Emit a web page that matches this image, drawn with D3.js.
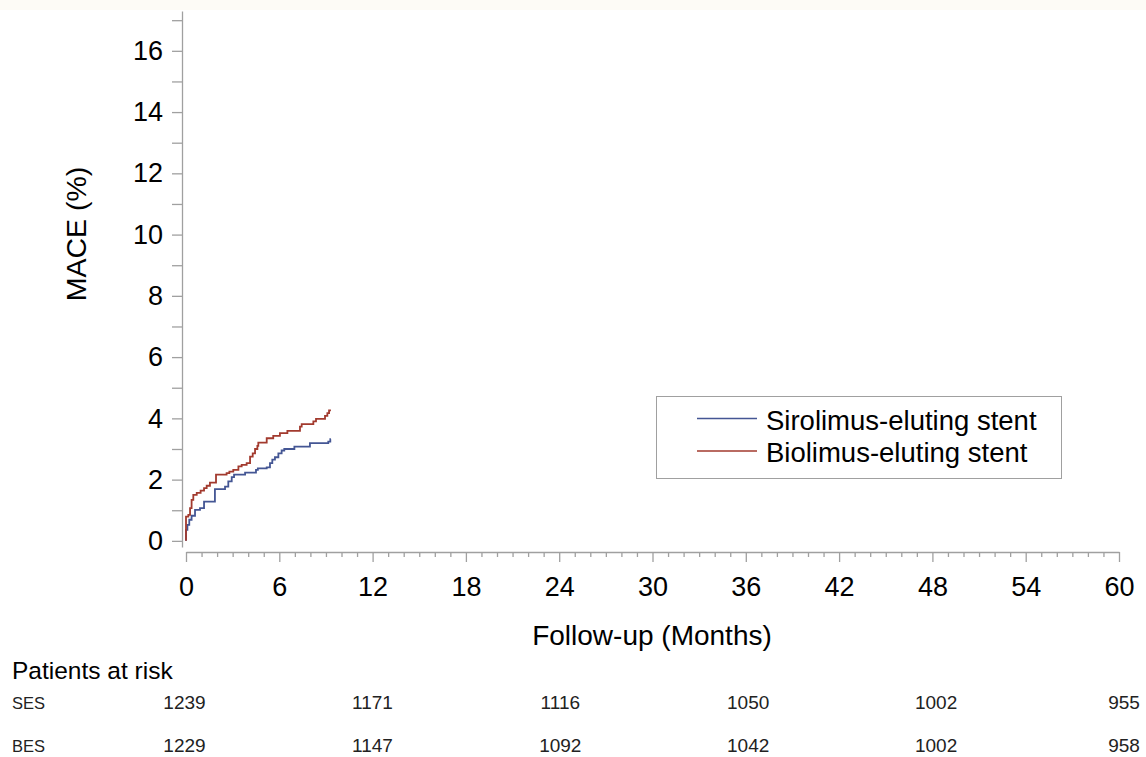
<!DOCTYPE html>
<html>
<head>
<meta charset="utf-8">
<script src="https://cdn.jsdelivr.net/npm/d3@7"></script>
<style>
  html, body { margin: 0; padding: 0; background: #ffffff; }
  svg { display: block; font-family: "Liberation Sans", Arial, sans-serif; }
</style>
</head>
<body>
<svg id="chart" width="1146" height="757"></svg>
<script>
// Kaplan-Meier cumulative incidence of MACE (%), by stent group
const sesTime = [0, 0, 0.09, 0.21, 0.36, 0.58, 0.9, 1.16, 1.86, 2.51, 2.72, 2.94, 3.09, 3.8, 4.5, 4.62, 5.19, 5.4, 5.55, 5.72, 5.94, 6.15, 6.32, 6.97, 7.97, 9.15, 9.28, 9.32];
const sesMace = [0, 0.36, 0.52, 0.69, 0.82, 1.01, 1.07, 1.28, 1.69, 1.77, 1.94, 2.08, 2.16, 2.23, 2.32, 2.37, 2.4, 2.54, 2.65, 2.73, 2.86, 2.95, 3.0, 3.08, 3.19, 3.24, 3.32, 3.32];

const besTime = [0, 0, 0.15, 0.26, 0.36, 0.47, 0.69, 0.94, 1.16, 1.33, 1.54, 1.93, 2.61, 2.79, 3.04, 3.37, 3.58, 3.9, 4.12, 4.29, 4.44, 4.59, 4.65, 5.19, 5.61, 6.04, 6.52, 7.33, 7.44, 8.19, 8.36, 8.94, 9.09, 9.2, 9.32];
const besMace = [0, 0.79, 0.85, 1.07, 1.34, 1.5, 1.57, 1.64, 1.72, 1.8, 1.9, 2.16, 2.21, 2.26, 2.32, 2.43, 2.48, 2.54, 2.75, 2.86, 3.0, 3.1, 3.21, 3.35, 3.43, 3.52, 3.59, 3.73, 3.81, 3.9, 3.98, 4.08, 4.17, 4.26, 4.26];

const seriesNames = ["Sirolimus-eluting stent", "Biolimus-eluting stent"];
const seriesColors = ["#445694", "#A23A2E"];

const xTickLabels = [0, 6, 12, 18, 24, 30, 36, 42, 48, 54, 60];
const yTickLabels = [0, 2, 4, 6, 8, 10, 12, 14, 16];

// Patients at risk
const riskTimes = [0, 12, 24, 36, 48, 60];
const riskGroups = ["SES", "BES"];
const sesRisk = [1239, 1171, 1116, 1050, 1002, 955];
const besRisk = [1229, 1147, 1092, 1042, 1002, 958];

const svg = d3.select("#chart");
const axisColor = "#a0a0a0";
const fontFamily = "Liberation Sans, Arial, sans-serif";

// faint header band
svg.append("rect").attr("x", 0).attr("y", 0).attr("width", 1146).attr("height", 10).attr("fill", "#fdfbf6");

const x = d3.scaleLinear().domain([0, 60]).range([186, 1119]);
const y = d3.scaleLinear().domain([-0.2, 17.3]).range([547, 11]);

// Y axis: ticks every 1, labels on even values
const yAxis = d3.axisLeft(y)
  .tickValues(d3.range(0, 18, 1))
  .tickSize(10)
  .tickSizeOuter(0)
  .tickPadding(9)
  .tickFormat(d => yTickLabels.includes(d) ? d : "");
const gy = svg.append("g").attr("transform", "translate(182,0)").call(yAxis);
gy.select(".domain").attr("stroke", axisColor).attr("stroke-width", 1.3);
gy.selectAll(".tick line").attr("stroke", axisColor).attr("stroke-width", 1.3);
gy.selectAll(".tick text").attr("font-size", 27).attr("fill", "#000")
  .attr("font-family", fontFamily);

// X axis: minor ticks every month, major every 6 months
const gxMinor = svg.append("g").attr("transform", "translate(0,552)")
  .call(d3.axisBottom(x).tickValues(d3.range(0, 61, 1).filter(d => d % 6 !== 0)).tickSize(5).tickSizeOuter(0).tickFormat(""));
gxMinor.select(".domain").remove();
gxMinor.selectAll(".tick line").attr("stroke", axisColor).attr("stroke-width", 1.3);

const gx = svg.append("g").attr("transform", "translate(0,552)")
  .call(d3.axisBottom(x).tickValues(xTickLabels).tickSize(10).tickSizeOuter(0).tickPadding(15));
gx.select(".domain").attr("stroke", axisColor).attr("stroke-width", 1.3);
gx.selectAll(".tick line").attr("stroke", axisColor).attr("stroke-width", 1.3);
gx.selectAll(".tick text").attr("font-size", 27).attr("fill", "#000")
  .attr("font-family", fontFamily);

// Axis titles
svg.append("text")
  .attr("transform", "translate(86,234) rotate(-90)")
  .attr("text-anchor", "middle")
  .attr("font-size", 28.5)
  .text("MACE (%)");

svg.append("text")
  .attr("x", 652).attr("y", 645)
  .attr("text-anchor", "middle")
  .attr("font-size", 28)
  .text("Follow-up (Months)");

// Step curves
const line = d3.line()
  .x(d => x(d[0]))
  .y(d => y(d[1]))
  .curve(d3.curveStepAfter);

const series = [
  d3.zip(sesTime, sesMace),
  d3.zip(besTime, besMace)
];
series.forEach((pts, i) => {
  svg.append("path")
    .datum(pts)
    .attr("d", line)
    .attr("fill", "none")
    .attr("stroke", seriesColors[i])
    .attr("stroke-width", 1.8);
});

// Legend
const legend = svg.append("g");
legend.append("rect")
  .attr("x", 656.5).attr("y", 396.5)
  .attr("width", 405).attr("height", 82)
  .attr("fill", "#fff")
  .attr("stroke", "#a0a0a0")
  .attr("stroke-width", 1);
seriesNames.forEach((name, i) => {
  const ly = 418.5 + i * 32.5;
  legend.append("line")
    .attr("x1", 697).attr("x2", 757)
    .attr("y1", ly).attr("y2", ly)
    .attr("stroke", seriesColors[i])
    .attr("stroke-width", 1.3);
  legend.append("text")
    .attr("x", 766).attr("y", ly + 11)
    .attr("font-size", 27.5)
    .text(name);
});

// Patients-at-risk table
svg.append("text")
  .attr("x", 12).attr("y", 679)
  .attr("font-size", 24.5)
  .text("Patients at risk");

const xr = d3.scaleLinear().domain([0, 60]).range([184.5, 1124]);
const riskRows = [sesRisk, besRisk];
riskGroups.forEach((g, i) => {
  const ry = 709 + i * 43;
  svg.append("text")
    .attr("x", 12).attr("y", ry)
    .attr("font-size", 16.5)
    .attr("fill", "#222")
    .text(g);
  svg.append("g").selectAll("text")
    .data(d3.zip(riskTimes, riskRows[i]))
    .join("text")
    .attr("x", d => xr(d[0]))
    .attr("y", ry)
    .attr("text-anchor", "middle")
    .attr("font-size", 19)
    .attr("fill", "#222")
    .text(d => d[1]);
});
</script>
</body>
</html>
